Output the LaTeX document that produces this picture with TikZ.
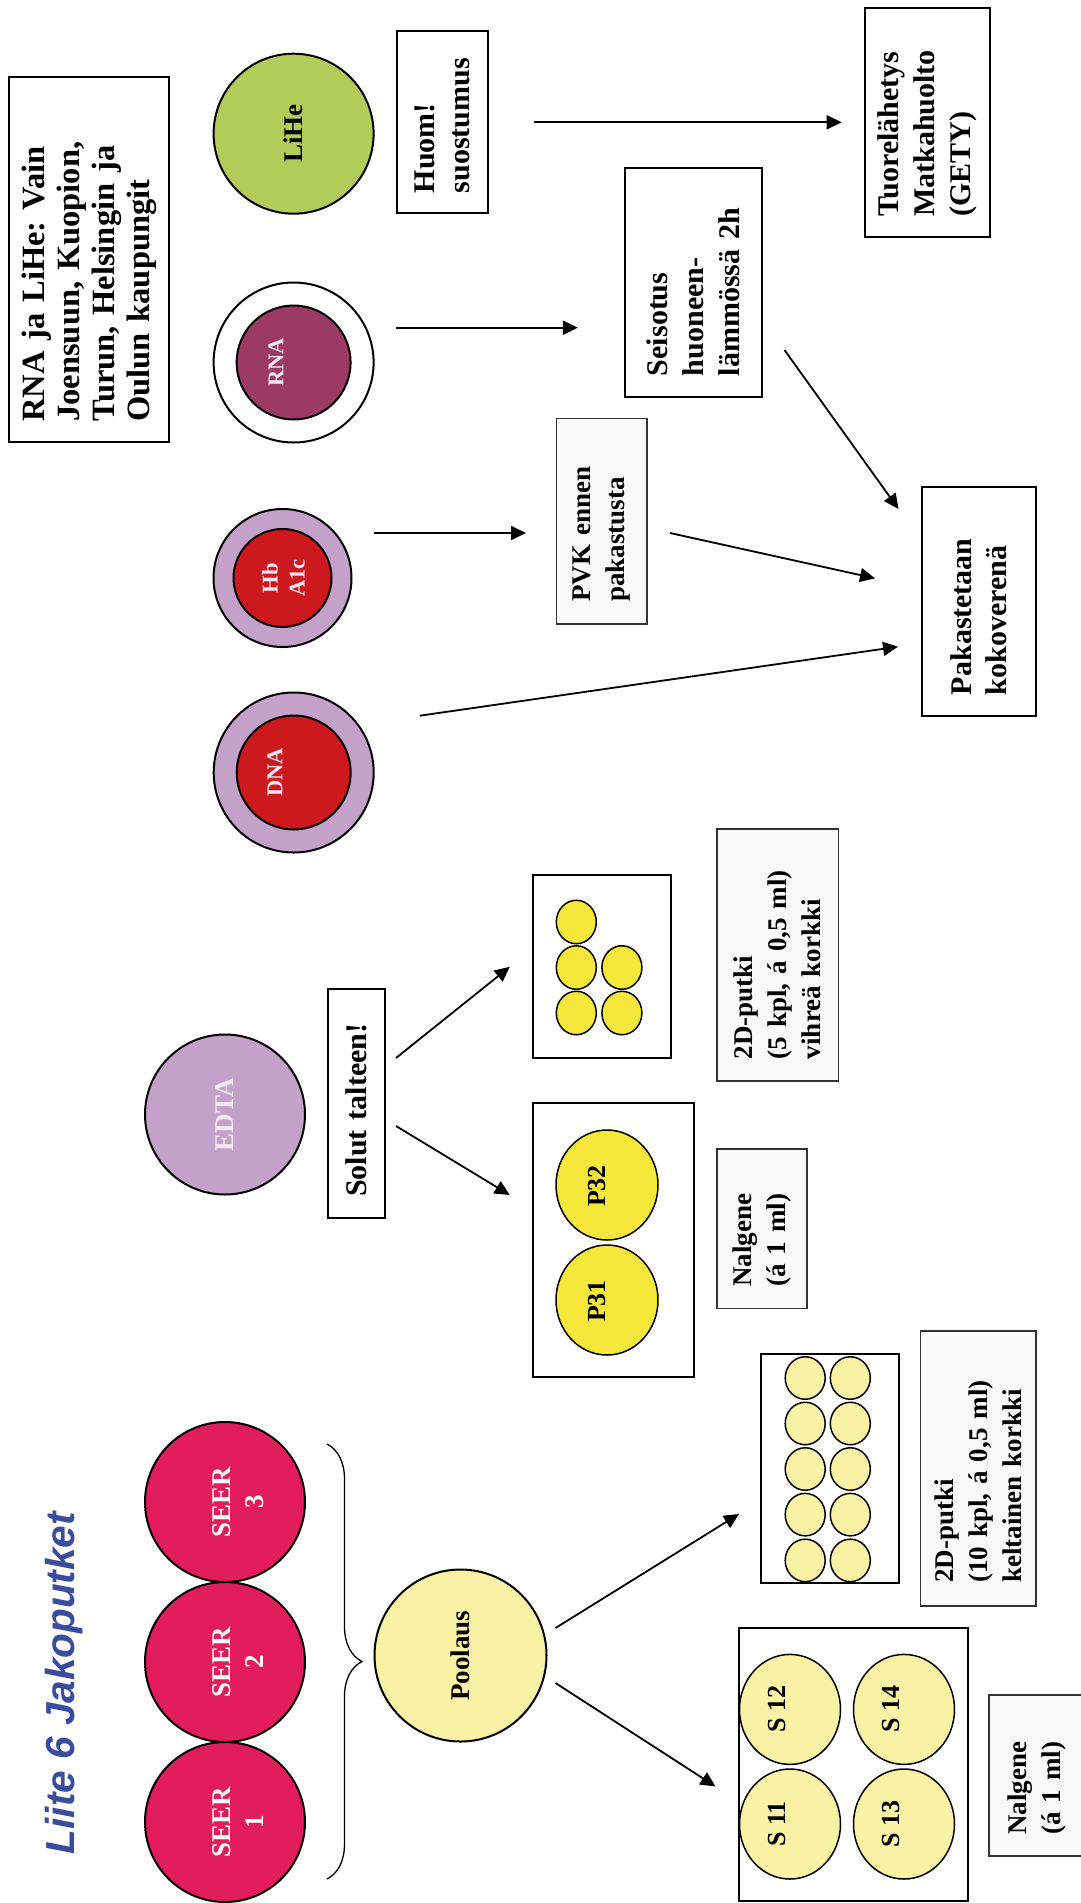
\documentclass[tikz,border=0pt]{standalone}
\usepackage{fontspec}
\setmainfont{Liberation Serif}
\newfontfamily\titlefont{Liberation Sans}
\usetikzlibrary{shapes.geometric, arrows.meta, decorations.pathreplacing}
\frenchspacing

\definecolor{seer}{RGB}{227,28,91}
\definecolor{pale}{RGB}{250,242,165}
\definecolor{lilac}{RGB}{195,161,201}
\definecolor{bred}{RGB}{205,25,30}
\definecolor{rnac}{RGB}{155,58,98}
\definecolor{lihec}{RGB}{178,204,90}
\definecolor{byel}{RGB}{245,232,58}
\definecolor{lblfill}{RGB}{249,249,249}
\definecolor{titleblue}{RGB}{58,76,158}
\definecolor{softw}{RGB}{246,232,242}

\begin{document}
\begin{tikzpicture}[x=1pt, y=-1pt,
  box/.style={draw=black, line width=2pt, fill=white, rotate=90, align=left, inner ysep=0pt,
    font=\bfseries\fontsize{30}{35}\selectfont\frenchspacing},
  lbox/.style={draw=black!80, line width=1.5pt, fill=lblfill, rotate=90, align=left, inner ysep=0pt,
    font=\bfseries\fontsize{27}{34}\selectfont\frenchspacing},
  circ/.style={circle, draw=black, line width=2pt, inner sep=0pt},
  ctxt/.style={circle, draw=black, line width=2pt, inner sep=0pt, rotate=90, align=center,
    font=\bfseries\fontsize{27}{33}\selectfont},
  txt/.style={rotate=90, align=center, inner sep=0pt, font=\bfseries\fontsize{27}{33}\selectfont},
  stxt/.style={rotate=90, align=center, inner sep=0pt, text=softw, font=\bfseries\fontsize{22.5}{27}\selectfont},
  tray/.style={draw=black, line width=2pt, fill=white, inner sep=0pt},
  tube/.style={ellipse, draw=black, line width=1.5pt, inner sep=0pt},
  arr/.style={-{Triangle[length=15pt,width=14pt]}, line width=1.8pt},
]
\useasboundingbox (0,0) rectangle (1080,1903);
\fill[white] (0,0) rectangle (1080,1903);

% title
\node[txt, font=\titlefont\bfseries\itshape\fontsize{40.5}{48}\selectfont, text=titleblue] (title) at (64,1683) {Liite 6 Jakoputket};

% SEER circles
\node[circ, fill=seer, minimum size=160pt] (seer3) at (225,1502) {};
\node[circ, fill=seer, minimum size=160pt] (seer2) at (225,1662) {};
\node[circ, fill=seer, minimum size=160pt] (seer1) at (225,1822) {};
\node[txt, text=white] (seer3t) at (238,1502) {SEER\\3};
\node[txt, text=white] (seer2t) at (238,1662) {SEER\\2};
\node[txt, text=white] (seer1t) at (238,1822) {SEER\\1};

% brace
\coordinate (braceTop) at (327,1444);
\coordinate (braceBot) at (327,1879);
\draw[line width=1.3pt, decorate, decoration={brace, amplitude=35pt}] (braceTop) -- (braceBot);

% Poolaus
\node[ctxt, fill=pale, minimum size=172pt] (pool) at (460.5,1655.5) {Poolaus};

% S tray
\node[tray, minimum width=229pt, minimum height=273pt] (sbox) at (853.2,1764.5) {};
\node[tube, fill=pale, minimum width=101pt, minimum height=110pt] (s12) at (790,1709.4) {};
\node[tube, fill=pale, minimum width=101pt, minimum height=110pt] (s11) at (790,1824) {};
\node[tube, fill=pale, minimum width=101pt, minimum height=110pt] (s14) at (904,1709.4) {};
\node[tube, fill=pale, minimum width=101pt, minimum height=110pt] (s13) at (904,1824) {};
\node[txt, font=\bfseries\fontsize{26}{30}\selectfont] (s12t) at (777.5,1709.4) {S 12};
\node[txt, font=\bfseries\fontsize{26}{30}\selectfont] (s11t) at (777.5,1824) {S 11};
\node[txt, font=\bfseries\fontsize{26}{30}\selectfont] (s14t) at (891,1709.4) {S 14};
\node[txt, font=\bfseries\fontsize{26}{30}\selectfont] (s13t) at (891,1824) {S 13};

% 10 tube tray
\node[tray, minimum width=137.8pt, minimum height=228.9pt] (tube10) at (830.3,1468.3) {};
\foreach \n/\cx/\cy in {a/805.2/1378, b/805.2/1423.5, c/805.2/1469, d/805.2/1514.6, e/805.2/1560.4,
                        f/850.3/1378, g/850.3/1423.5, h/850.3/1469, i/850.3/1514.6, j/850.3/1560.4}
  \node[tube, fill=pale, minimum width=40pt, minimum height=42.5pt] (t10\n) at (\cx,\cy) {};

% labels for serum
\node[lbox, minimum height=115.4pt, text width=229pt, inner xsep=23pt] (put10) at (978.2,1468.3)
  {2D-putki\\(10 kpl, á 0,5 ml)\\keltainen korkki};
\node[lbox, minimum height=96pt, text width=118.2pt, inner xsep=21.4pt] (nalS) at (1037,1775.5)
  {Nalgene\\(á 1 ml)};

% EDTA
\node[ctxt, fill=lilac, minimum size=160pt, text=softw] (edta) at (225,1114.5) {EDTA};
\node[box, minimum height=57pt, text width=187.6pt, inner xsep=20.7pt] (solut) at (356.5,1103) {Solut talteen!};

% 5 tube tray
\node[tray, minimum width=137.5pt, minimum height=183.4pt] (tube5) at (601.75,966.3) {};
\foreach \n/\cx/\cy in {a/576.3/922, b/576.3/967.5, c/576.3/1013, d/621.9/967.5, e/621.9/1013}
  \node[tube, fill=byel, minimum width=40pt, minimum height=43.5pt] (t5\n) at (\cx,\cy) {};

% P tray
\node[tray, minimum width=160.8pt, minimum height=274.4pt] (pbox) at (613.4,1239.8) {};
\node[tube, fill=byel, minimum width=102pt, minimum height=110pt] (p32) at (607,1185) {};
\node[tube, fill=byel, minimum width=102pt, minimum height=110pt] (p31) at (607,1300) {};
\node[txt, font=\bfseries\fontsize{26}{30}\selectfont] (p32t) at (596.7,1186) {P32};
\node[txt, font=\bfseries\fontsize{26}{30}\selectfont] (p31t) at (596.7,1301) {P31};

\node[lbox, minimum height=121.5pt, text width=208pt, inner xsep=22pt] (put5) at (777.75,955)
  {2D-putki\\(5 kpl, á 0,5 ml)\\vihreä korkki};
\node[lbox, minimum height=90pt, text width=116pt, inner xsep=21.8pt] (nalP) at (762,1228.8)
  {Nalgene\\(á 1 ml)};

% DNA, HbA1c, RNA, LiHe
\node[circ, fill=lilac, minimum size=160pt] (dnao) at (293.7,772.5) {};
\node[circ, fill=bred, minimum size=114pt] (dnai) at (293.7,772.5) {};
\node[stxt] (dnat) at (275,772.5) {DNA};

\node[circ, fill=lilac, minimum size=138pt] (hbo) at (282.5,578) {};
\node[circ, fill=bred, minimum size=98pt] (hbi) at (282.5,578) {};
\node[stxt] (hbt) at (283.4,578) {Hb\\A1c};

\node[circ, fill=white, minimum size=160pt] (rnao) at (293.6,362.5) {};
\node[circ, fill=rnac, minimum size=114pt] (rnai) at (293.6,362.5) {};
\node[stxt] (rnat) at (276,362.5) {RNA};

\node[ctxt, fill=lihec, minimum size=160pt] (lihe) at (293.6,133.7) {LiHe};

% boxes top part
\node[box, minimum height=160.8pt, text width=324.4pt, inner xsep=20.6pt,
  font=\bfseries\fontsize{32.5}{35}\selectfont\frenchspacing] (info) at (89,259.5)
  {RNA ja LiHe: Vain\\Joensuun, Kuopion,\\Turun, Helsingin ja\\Oulun kaupungit};
\node[box, minimum height=91.6pt, text width=142.6pt, inner xsep=20pt,
  font=\bfseries\fontsize{30}{34.5}\selectfont] (huom) at (442.5,122) {Huom!\\suostumus};
\node[box, minimum height=125.7pt, text width=188.4pt, inner xsep=20pt,
  font=\bfseries\fontsize{30}{36}\selectfont] (tuore) at (927.6,122.5) {Tuorelähetys\\Matkahuolto\\(GETY)};
\node[box, minimum height=137.3pt, text width=187.6pt, inner xsep=20.7pt,
  font=\bfseries\fontsize{30}{36}\selectfont] (seis) at (693.4,282.2) {Seisotus\\huoneen-\\lämmössä 2h};
\node[box, minimum height=114.3pt, text width=187pt, inner xsep=20.7pt] (pak) at (978.7,601.5)
  {Pakastetaan\\kokoverenä};
\node[lbox, minimum height=90.6pt, text width=160.8pt, inner xsep=22.3pt,
  font=\bfseries\fontsize{27}{34.5}\selectfont] (pvk) at (601.7,521.3) {PVK ennen\\pakastusta};

% arrows
\draw[arr] ([shift={(91.5,0.3)}]huom.center) -- ([shift={(-85.9,-0.2)}]tuore.center);
\draw[arr] ([shift={(102.4,-34.8)}]rnao.center) -- ([shift={(-115.5,45.5)}]seis.center);
\draw[arr] ([shift={(91.1,67.8)}]seis.center) -- ([shift={(-80.2,-92.5)}]pak.center);
\draw[arr] ([shift={(91.5,-45)}]hbo.center) -- ([shift={(-75.7,11.7)}]pvk.center);
\draw[arr] ([shift={(68.3,11.7)}]pvk.center) -- ([shift={(-103.7,-23.2)}]pak.center);
\draw[arr] ([shift={(126.1,-56.8)}]dnao.center) -- ([shift={(-80.7,45.2)}]pak.center);
\draw[arr] ([shift={(39.5,-45)}]solut.center) -- ([shift={(-91.95,0.5)}]tube5.center);
\draw[arr] ([shift={(39.5,23)}]solut.center) -- ([shift={(-103.6,-44.8)}]pbox.center);
\draw[arr] ([shift={(95,-27.5)}]pool.center) -- ([shift={(-91.3,45.7)}]tube10.center);
\draw[arr] ([shift={(95,27.5)}]pool.center) -- ([shift={(-137.6,22)}]sbox.center);
\end{tikzpicture}
\end{document}
